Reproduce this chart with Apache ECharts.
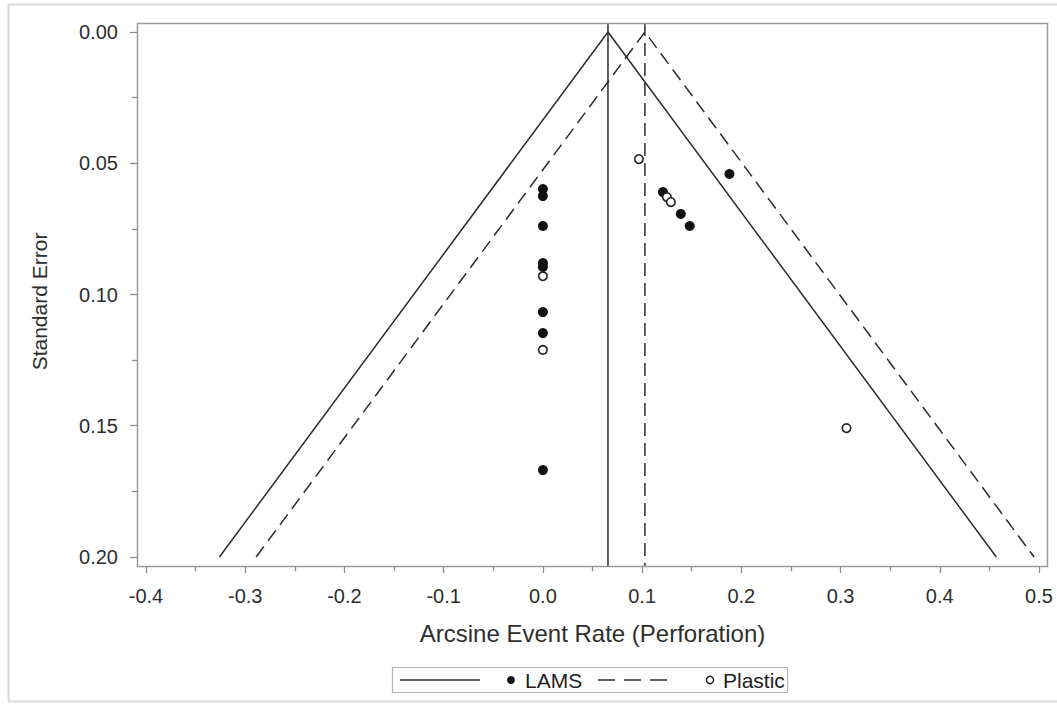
<!DOCTYPE html>
<html>
<head>
<meta charset="utf-8">
<script src="https://cdn.jsdelivr.net/npm/echarts@6/dist/echarts.min.js"></script>
<style>html,body{margin:0;padding:0;background:#fff;}#c{width:1057px;height:705px;}</style>
</head>
<body>
<div id="c"></div>
<script>
// ---- data ----
const lamsX = [0, 0, 0, 0, 0, 0, 0, 0, 0.121, 0.139, 0.148, 0.188];
const lamsY = [0.0598, 0.0625, 0.0739, 0.0880, 0.0895, 0.1067, 0.1147, 0.1669, 0.0610, 0.0693, 0.0739, 0.0541];
const plasticX = [0, 0, 0.0968, 0.125, 0.129, 0.306];
const plasticY = [0.0930, 0.1211, 0.0484, 0.0629, 0.0648, 0.1509];
const funnelY = [0.2, 0, 0.2];
const lamsFunnelX = [-0.326, 0.0656, 0.457];
const plasticFunnelX = [-0.289, 0.1028, 0.495];
const lamsCenter = 0.0656;
const plasticCenter = 0.1028;
const verticalY = [-0.0034, 0.2034];
const xTicks = [-0.4, 0.5, 0.1];
const yTicks = [0, 0.2, 0.05];

const zip = (xs, ys) => xs.map((x, i) => [x, ys[i]]);
const FONT = '"Liberation Sans", Arial, sans-serif';
const INK = '#2b2b2b';
const TICK = {color: '#8a8a8a', width: 1.3};

const chart = echarts.init(document.getElementById('c'), null, {renderer: 'svg'});
chart.setOption({
  animation: false,
  backgroundColor: '#fff',
  grid: {left: 146, right: 18, top: 32, bottom: 148},
  xAxis: {
    type: 'value', min: xTicks[0], max: xTicks[1], interval: xTicks[2], offset: 9,
    axisLine: {show: false, onZero: false},
    axisTick: {show: true, length: 7, lineStyle: TICK},
    minorTick: {show: true, splitNumber: 2, length: 5, lineStyle: TICK},
    splitLine: {show: false},
    axisLabel: {color: '#2e2e2e', fontSize: 20, fontFamily: FONT, margin: 20, formatter: v => v.toFixed(1)},
    name: 'Arcsine Event Rate (Perforation)', nameLocation: 'middle', nameGap: 55,
    nameTextStyle: {color: '#2e2e2e', fontSize: 24, fontFamily: FONT}
  },
  yAxis: {
    type: 'value', inverse: true, min: yTicks[0], max: yTicks[1], interval: yTicks[2], offset: 9,
    axisLine: {show: false, onZero: false},
    axisTick: {show: true, length: 7, lineStyle: TICK},
    minorTick: {show: true, splitNumber: 2, length: 5, lineStyle: TICK},
    splitLine: {show: false},
    axisLabel: {color: '#2e2e2e', fontSize: 20, fontFamily: FONT, margin: 19, formatter: v => v.toFixed(2)},
    name: 'Standard Error', nameLocation: 'middle', nameGap: 87,
    nameTextStyle: {color: '#2e2e2e', fontSize: 21, fontFamily: FONT, padding: [0, 14, 0, 0]}
  },
  graphic: [
    {type: 'rect', shape: {x: 8.5, y: 4.5, width: 1060, height: 697}, style: {fill: 'none', stroke: '#d8d8d8', lineWidth: 2}, silent: true, z: 0},
    {type: 'rect', shape: {x: 137.5, y: 23.5, width: 910, height: 543}, style: {fill: 'none', stroke: '#9a9a9a', lineWidth: 1.5}, silent: true, z: 10},
    // legend
    {type: 'rect', shape: {x: 392.5, y: 667.5, width: 395, height: 25}, style: {fill: '#fff', stroke: '#b5b5b5', lineWidth: 1.2}, silent: true},
    {type: 'line', shape: {x1: 400, y1: 680, x2: 480, y2: 680}, style: {stroke: INK, lineWidth: 1.5}},
    {type: 'circle', shape: {cx: 511, cy: 680, r: 4}, style: {fill: '#111'}},
    {type: 'text', x: 525, y: 680, style: {text: 'LAMS', fill: '#222', font: '21px ' + FONT, textVerticalAlign: 'middle'}},
    {type: 'line', shape: {x1: 598, y1: 680, x2: 668, y2: 680}, style: {stroke: INK, lineWidth: 1.5, lineDash: [17, 9]}},
    {type: 'circle', shape: {cx: 710, cy: 680, r: 3.6}, style: {fill: '#fff', stroke: '#222', lineWidth: 1.5}},
    {type: 'text', x: 723, y: 680, style: {text: 'Plastic', fill: '#222', font: '21px ' + FONT, textVerticalAlign: 'middle'}}
  ],
  series: [
    {type: 'line', name: 'LAMS funnel', data: zip(lamsFunnelX, funnelY), symbol: 'none', lineStyle: {color: INK, width: 1.5}, z: 3},
    {type: 'line', name: 'Plastic funnel', data: zip(plasticFunnelX, funnelY), symbol: 'none', lineStyle: {color: INK, width: 1.5, type: [13, 7]}, z: 3},
    {type: 'line', name: 'LAMS pooled', clip: false, data: verticalY.map(y => [lamsCenter, y]), symbol: 'none', lineStyle: {color: INK, width: 1.5}, z: 3},
    {type: 'line', name: 'Plastic pooled', clip: false, data: verticalY.map(y => [plasticCenter, y]), symbol: 'none', lineStyle: {color: INK, width: 1.5, type: [13, 7]}, z: 3},
    {type: 'scatter', name: 'LAMS', data: zip(lamsX, lamsY), symbol: 'circle', symbolSize: 10, itemStyle: {color: '#111', opacity: 1}, z: 5},
    {type: 'scatter', name: 'Plastic', data: zip(plasticX, plasticY), symbol: 'circle', symbolSize: 8.5, itemStyle: {color: '#fff', borderColor: '#222', borderWidth: 1.6, opacity: 1}, z: 6}
  ]
});
</script>
</body>
</html>
